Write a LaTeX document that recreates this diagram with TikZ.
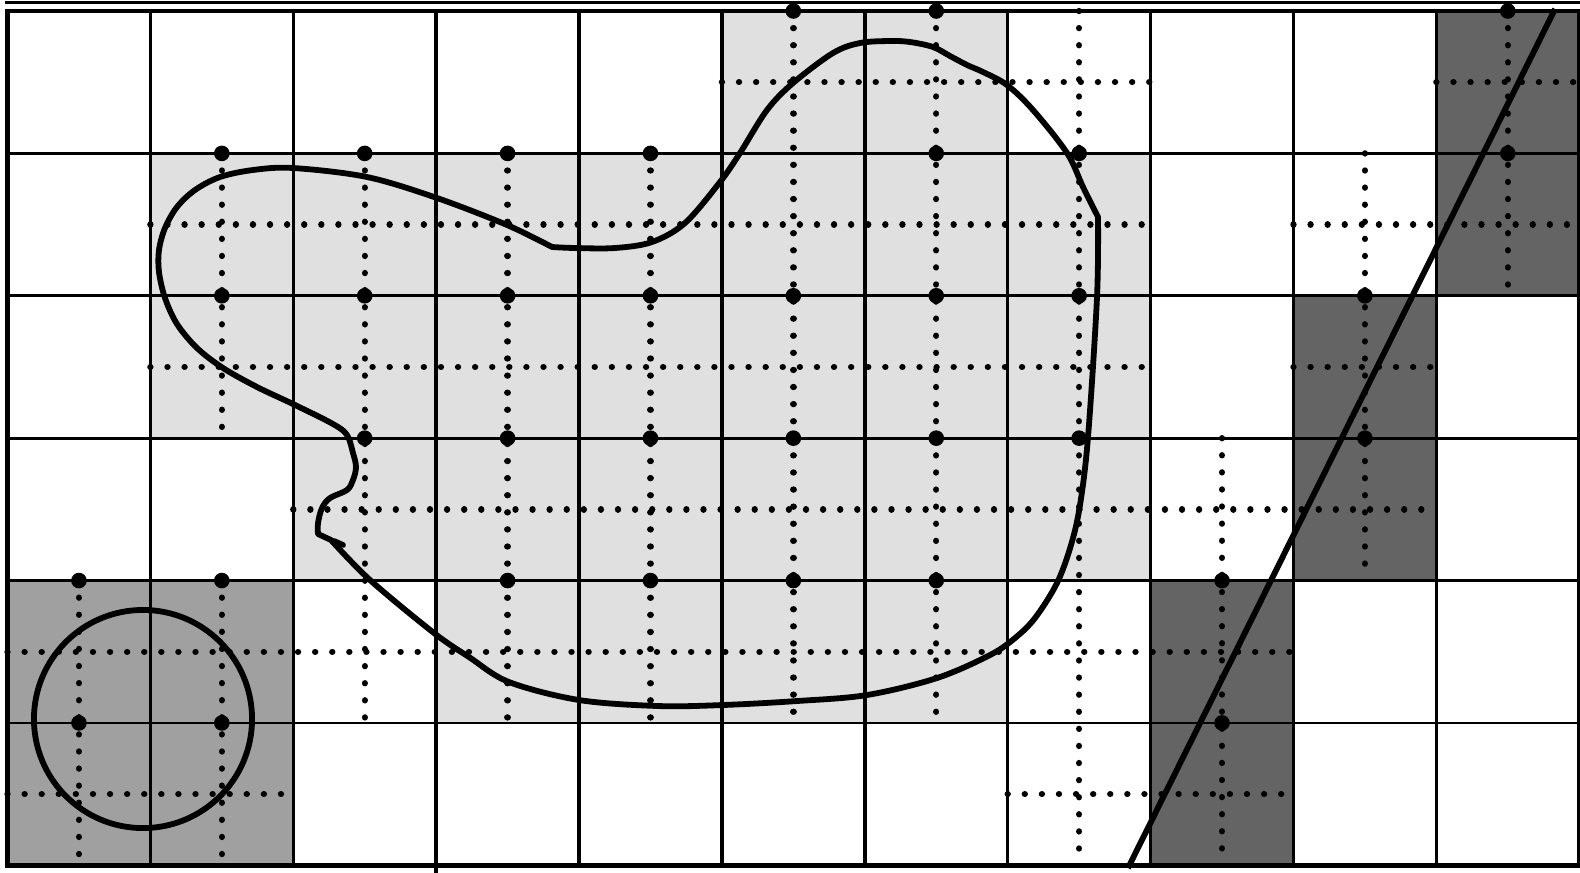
\documentclass[tikz,border=0pt]{standalone}
\definecolor{lightcell}{RGB}{224,224,224}
\definecolor{midcell}{RGB}{160,160,160}
\definecolor{darkcell}{RGB}{100,100,100}
\begin{document}
\begin{tikzpicture}[x=0.01cm,y=-0.01cm,
  vline/.style={line width=1pt},
  hline/.style={line width=0.8pt},
  borderline/.style={line width=1.3pt},
  dotline/.style={line width=1.8pt, line cap=round, dash pattern=on 0.01pt off 4.85pt},
  curve/.style={line width=1.65pt, line join=round, line cap=round},
  vertex/.style={fill=black}]
\useasboundingbox (0,0) rectangle (1580,872);
\draw[line width=0.9pt] (5,2.5) -- (1580,2.5);
\begin{scope}[shift={(7.5,11)}, x=1.428cm, y=-1.423cm]
  % fills
  \fill[lightcell] (5,0) -- (7,0) -- (7,1) -- (8,1) -- (8,4) -- (7,4) -- (7,5)
     -- (3,5) -- (3,4) -- (2,4) -- (2,3) -- (1,3) -- (1,1) -- (5,1) -- cycle;
  \fill[midcell] (0,4) rectangle (2,6);
  \fill[darkcell] (10,0) rectangle (11,2);
  \fill[darkcell] (9,2) rectangle (10,4);
  \fill[darkcell] (8,4) rectangle (9,6);
  % dotted dual grid
  \foreach \r/\a/\b in {0/5/8, 0/10/11, 1/1/8, 1/9/11, 2/1/8, 2/9/10, 3/2/10, 4/0/9, 5/0/2, 5/7/9}
    \draw[dotline] (\a,\r+0.5) -- (\b,\r+0.5);
  \foreach \c/\a/\b in {0/4/6, 1/1/3, 1/4/6, 2/1/5, 3/1/5, 4/1/5, 5/0/5, 6/0/5, 7/0/6, 8/3/6, 9/1/4, 10/0/2}
    \draw[dotline] (\c+0.5,\a) -- (\c+0.5,\b);
  % grid
  \foreach \i in {1,...,10} \draw[vline] (\i,0) -- (\i,6);
  \foreach \j in {1,...,5} \draw[hline] (0,\j) -- (11,\j);
  \draw[vline] (3,6) -- (3,6.06);
  \draw[borderline] (0,0) rectangle (11,6);
  % vertices
  \foreach \c/\r in {5/0,6/0,10/0,
                     1/1,2/1,3/1,4/1,6/1,7/1,10/1,
                     1/2,2/2,3/2,4/2,5/2,6/2,7/2,9/2,
                     2/3,3/3,4/3,5/3,6/3,7/3,9/3,
                     0/4,1/4,3/4,4/4,5/4,6/4,8/4,
                     0/5,1/5,8/5}
    \fill[vertex] (\c+0.5,\r) circle[radius=0.078cm];
\end{scope}
% circle
\coordinate (cc) at (143,719);
\draw[curve] (cc) circle[radius=1.09cm];
% straight line
\coordinate (la) at (1128,868);
\coordinate (lb) at (1555,9);
\draw[curve, line cap=butt] (la) -- (lb);
% blob
\draw[curve] (318,534) -- (331,540)
  -- plot[smooth, tension=0.55] coordinates {(331,540) (370,580) (434,633) (469,657) (509,682)
     (579,700) (658,706) (723,705) (797,701) (867,695) (937,678) (990,655) (1015,638) (1035,618)
     (1057,583) (1071,545) (1080,505) (1088,437) (1097,297) (1098,217)}
  -- plot[smooth, tension=0.55] coordinates {(1098,217) (1083,187) (1067,153) (1033,110)
     (1007,85) (983,72) (967,65) (950,56) (933,47) (910,42) (890,41) (860,43) (833,53)
     (793,83) (767,110) (740,153) (720,182) (685,223) (652,242) (615,248) (575,248) (552,247)}
  -- plot[smooth, tension=0.55] coordinates {(552,247) (507,225) (437,198) (367,177) (293,168)
     (253,170) (220,177) (195,190) (177,207) (165,228) (159,250) (159,272) (165,298)
     (177,324) (197,348) (223,368) (257,387) (293,404) (333,424) (347,435) (353,453)
     (356,467) (353,480) (347,490) (330,498) (322,508) (318,523) (318,534)}
  -- cycle;
\draw[curve] (334,541) -- (343,545);
\end{tikzpicture}
\end{document}
